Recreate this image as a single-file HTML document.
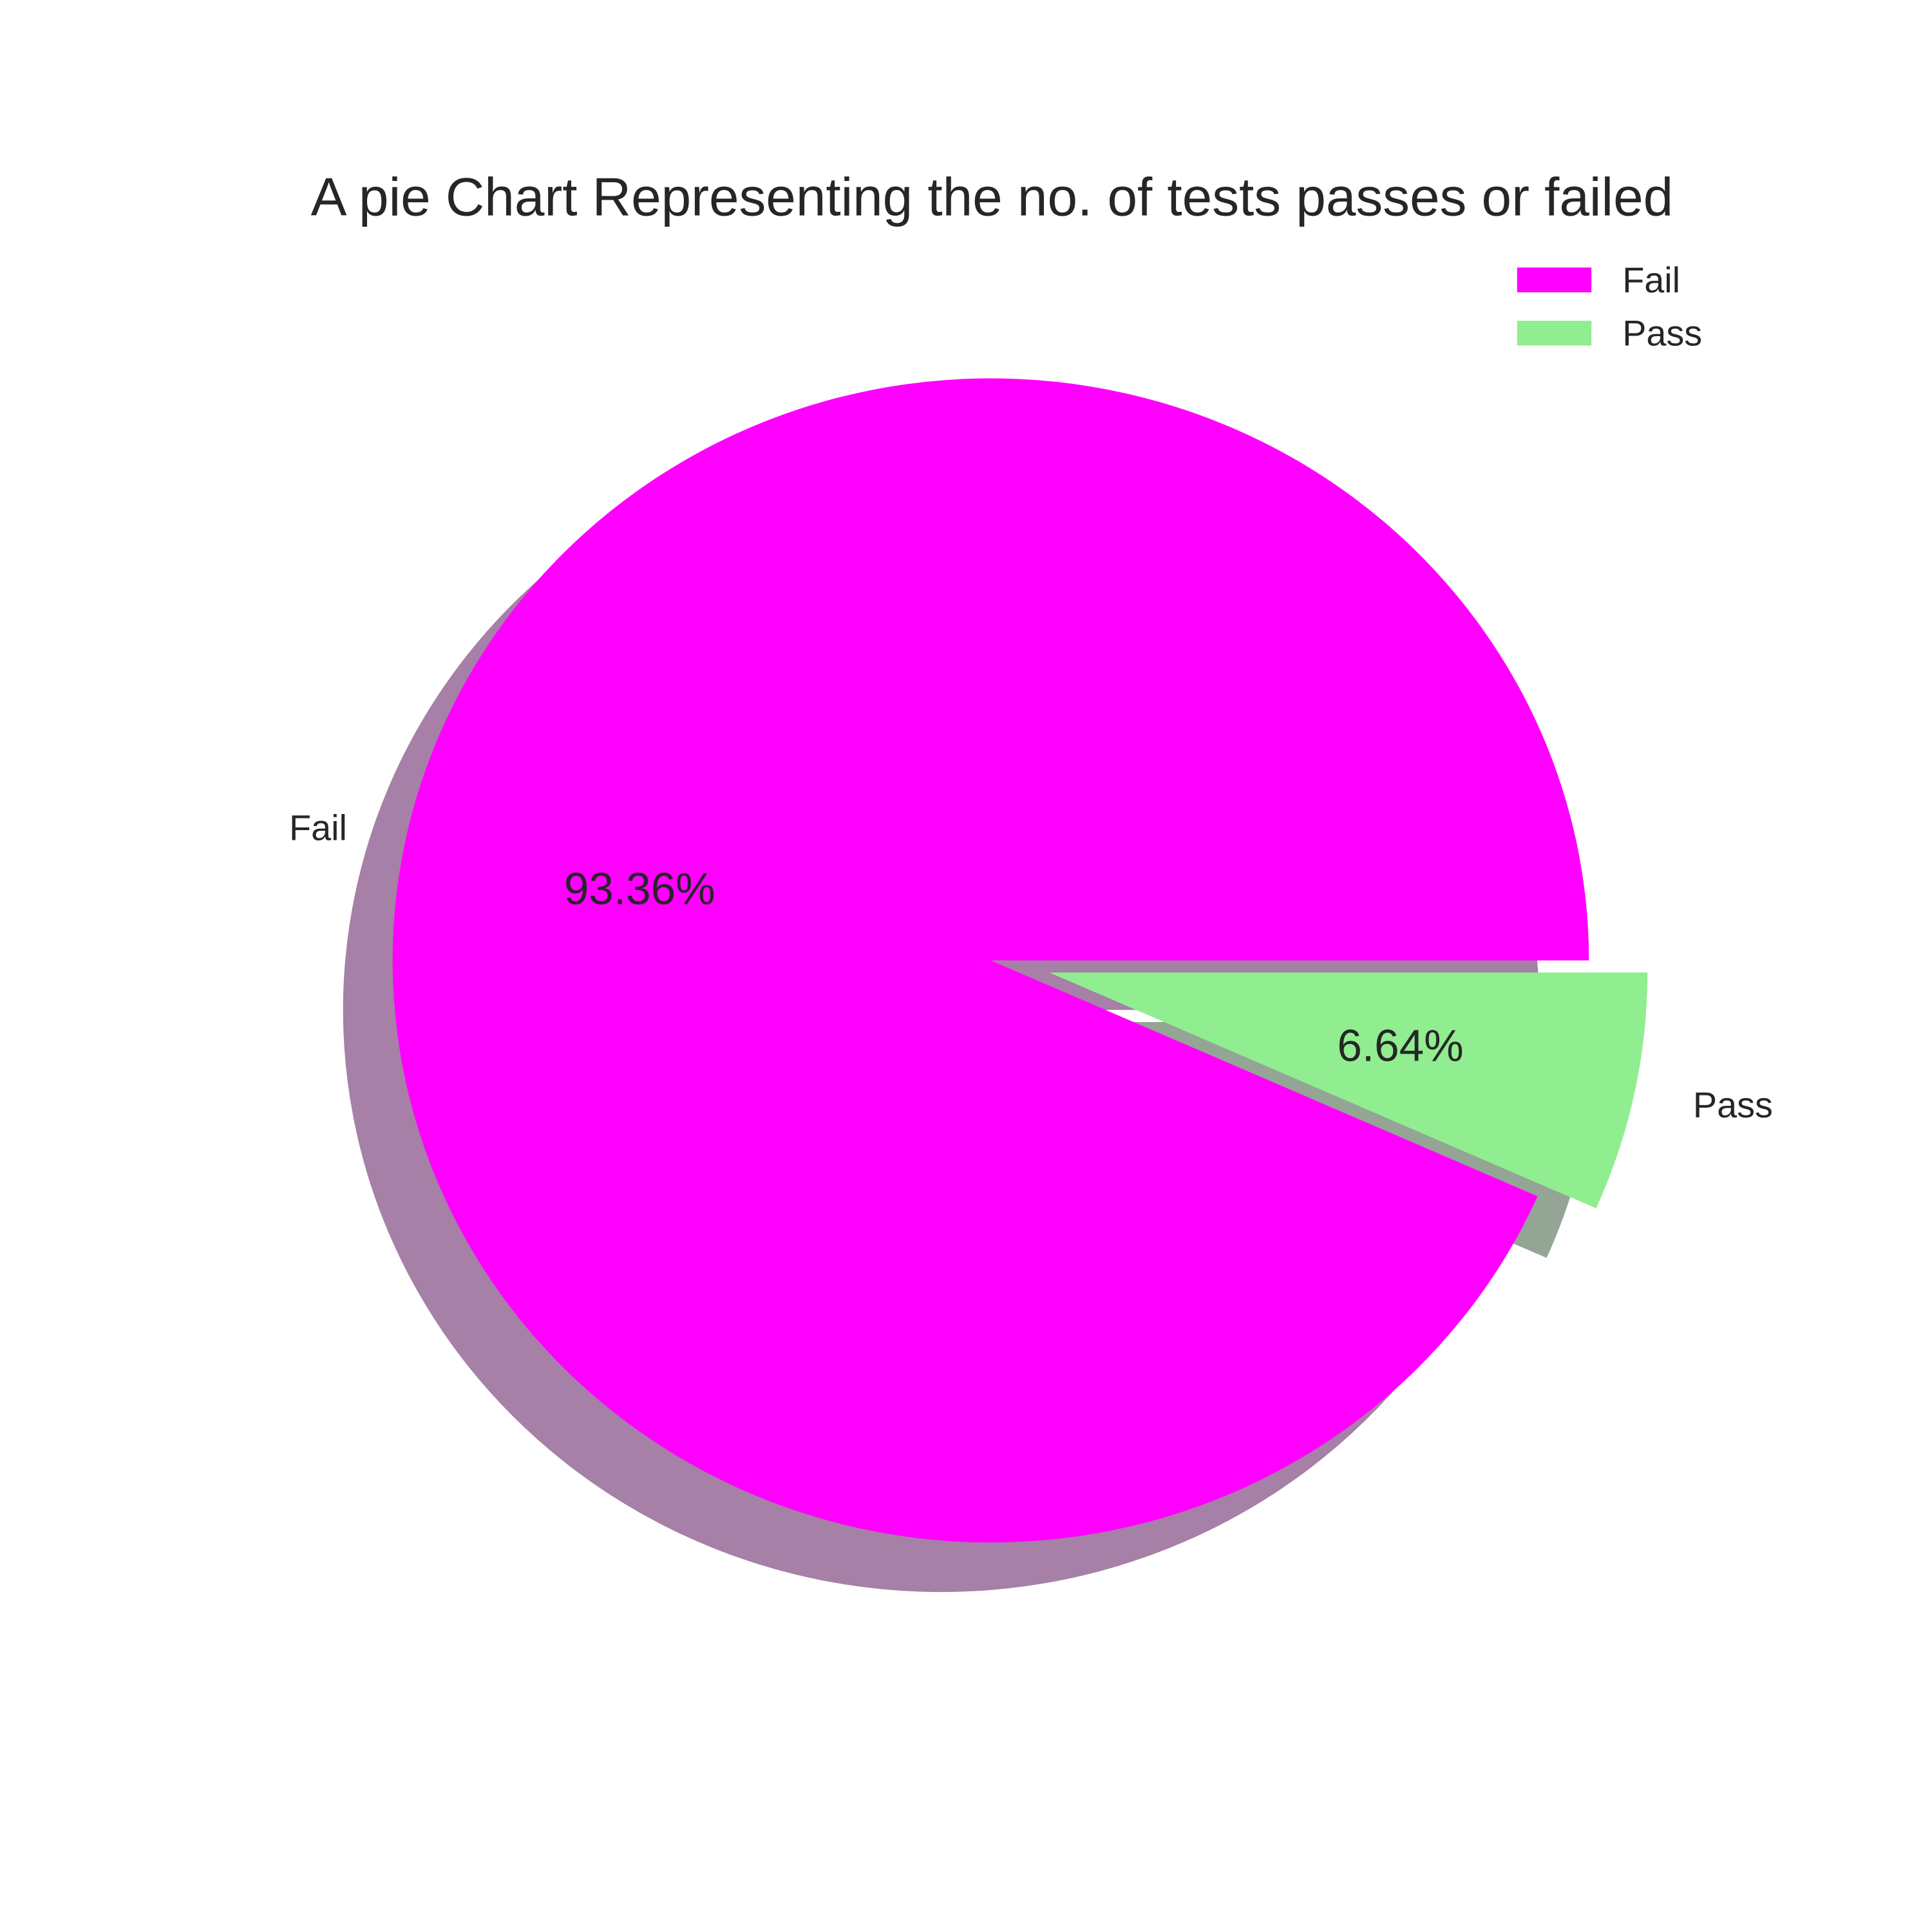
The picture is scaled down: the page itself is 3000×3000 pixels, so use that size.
<!DOCTYPE html>
<html><head><meta charset="utf-8"><style>
html,body{margin:0;padding:0;background:#fff;}
svg{display:block;font-family:"Liberation Sans",Arial,sans-serif;}
</style></head><body>
<svg id="chart" width="3000" height="3000" viewBox="0 0 1560 1560" preserveAspectRatio="none" xmlns="http://www.w3.org/2000/svg">
<rect width="1560" height="1560" fill="#fff"/>
<g id="shadows"></g>
<g id="wedges"></g>
<g id="labels"></g>
<text x="801" y="174" font-size="43.5" fill="#262626" text-anchor="middle">A pie Chart Representing the no. of tests passes or failed</text>
<g>
<rect x="1225" y="216" width="60" height="20" fill="#ff00ff"/>
<text x="1310" y="236" font-size="29" fill="#262626">Fail</text>
<rect x="1225" y="259" width="60" height="20" fill="#90ee90"/>
<text x="1310" y="279" font-size="29" fill="#262626">Pass</text>
</g>
</svg>
<script>
const categories = ["Fail", "Pass"];
const values = [93.36, 6.64];
const colors = ["#ff00ff", "#90ee90"];
const shadowColors = ["#a680a6", "#95a595"];
const explode = [0, 0.1];

const NS = "http://www.w3.org/2000/svg";
const cx = 800, cy = 775.5, rx = 483, ry = 470;
const total = values.reduce((a, b) => a + b, 0);
const shadowG = document.getElementById('shadows');
const wedgeG = document.getElementById('wedges');
const labelG = document.getElementById('labels');

function pt(ox, oy, a, f) { return [ox + rx * f * Math.cos(a), oy - ry * f * Math.sin(a)]; }
function wedgePath(ox, oy, a0, a1) {
  const p0 = pt(ox, oy, a0, 1), p1 = pt(ox, oy, a1, 1);
  const large = (a1 - a0) > Math.PI ? 1 : 0;
  return `M${ox},${oy} L${p0[0]},${p0[1]} A${rx},${ry} 0 ${large} 0 ${p1[0]},${p1[1]} Z`;
}

let start = 0;
values.forEach((v, i) => {
  const sweep = v / total * 2 * Math.PI;
  const a0 = start, a1 = start + sweep, mid = (a0 + a1) / 2;
  const ox = cx + rx * explode[i] * Math.cos(mid);
  const oy = cy - ry * explode[i] * Math.sin(mid);
  const s = document.createElementNS(NS, 'path');
  s.setAttribute('d', wedgePath(ox - 40, oy + 40, a0, a1));
  s.setAttribute('fill', shadowColors[i]);
  
  
  shadowG.appendChild(s);
  const w = document.createElementNS(NS, 'path');
  w.setAttribute('d', wedgePath(ox, oy, a0, a1));
  w.setAttribute('fill', colors[i]);
  
  
  wedgeG.appendChild(w);
  const lp = pt(ox, oy, mid, 1.1);
  const l = document.createElementNS(NS, 'text');
  l.setAttribute('x', lp[0]); l.setAttribute('y', lp[1] + 10);
  l.setAttribute('font-size', '29'); l.setAttribute('fill', '#262626');
  l.setAttribute('text-anchor', Math.cos(mid) >= 0 ? 'start' : 'end');
  l.textContent = categories[i];
  
  
  labelG.appendChild(l);
  const pp = pt(ox, oy, mid, 0.6);
  const p = document.createElementNS(NS, 'text');
  p.setAttribute('x', pp[0]); p.setAttribute('y', pp[1] + 13);
  p.setAttribute('font-size', '36'); p.setAttribute('fill', '#262626');
  p.setAttribute('text-anchor', 'middle');
  p.textContent = v.toFixed(2) + '%';
  
  
  labelG.appendChild(p);
  start = a1;
});
</script>
</body></html>
